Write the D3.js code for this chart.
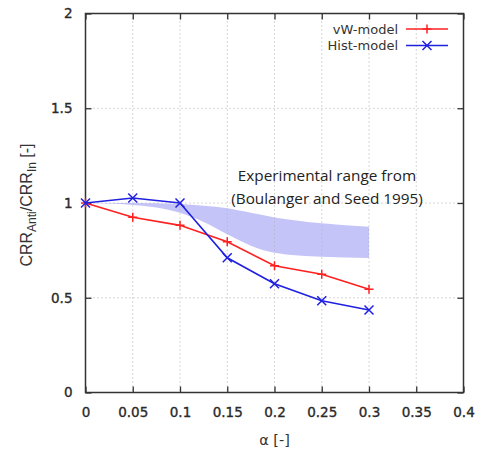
<!DOCTYPE html>
<html><head><meta charset="utf-8">
<script src="https://cdn.jsdelivr.net/npm/d3@7"></script>
<style>body{margin:0;background:#fff}svg{display:block}</style>
</head><body>
<svg id="c" width="481" height="452"></svg>
<script>
const alphaVals = [0, 0.05, 0.1, 0.15, 0.2, 0.25, 0.3];
const vwModel = [1.0, 0.925, 0.882, 0.795, 0.669, 0.624, 0.545];
const histModel = [1.0, 1.026, 1.0, 0.711, 0.574, 0.484, 0.435];
const bandX = [0, 0.05, 0.1, 0.125, 0.15, 0.175, 0.2, 0.25, 0.3];
const bandUpper = [1.0, 1.0, 0.995, 0.985, 0.972, 0.948, 0.924, 0.893, 0.875];
const bandLower = [1.0, 0.99, 0.948, 0.9, 0.835, 0.775, 0.738, 0.716, 0.71];
const xTicks = [0, 0.05, 0.1, 0.15, 0.2, 0.25, 0.3, 0.35, 0.4];
const yTicks = [0, 0.5, 1, 1.5, 2];
const seriesNames = ["vW-model", "Hist-model"];

const svg = d3.select("#c");
const L = 85.5, R = 463.5, T = 13.5, B = 392.5;
const x = d3.scaleLinear().domain([0, 0.4]).range([L, R]);
const y = d3.scaleLinear().domain([0, 2]).range([B, T]);
const tickCol = "#2a2a2a";
const font = "DejaVu Sans, Verdana, sans-serif";

// band
const bandData = bandX.map((v, i) => ({x: v, lo: bandLower[i], hi: bandUpper[i]}));
svg.append("path").datum(bandData)
  .attr("d", d3.area().x(d => x(d.x)).y0(d => y(d.lo)).y1(d => y(d.hi)).curve(d3.curveMonotoneX))
  .attr("fill", "#c4c4f8");

// grid
const g = svg.append("g");
xTicks.slice(1, -1).forEach(t => g.append("line").attr("x1", x(t)).attr("x2", x(t)).attr("y1", T).attr("y2", B)
  .attr("stroke", "#b0b0b0").attr("stroke-width", 1).attr("stroke-dasharray", "1,3"));
yTicks.slice(1, -1).forEach(t => g.append("line").attr("x1", L).attr("x2", R).attr("y1", y(t)).attr("y2", y(t))
  .attr("stroke", "#b0b0b0").attr("stroke-width", 1).attr("stroke-dasharray", "1,3"));

// axes
const fmt = d => String(d);
const ax = svg.append("g").attr("transform", `translate(0,${B})`)
  .call(d3.axisBottom(x).tickValues(xTicks).tickFormat(fmt).tickSizeInner(-6).tickSizeOuter(0).tickPadding(15));
const axT = svg.append("g").attr("transform", `translate(0,${T})`)
  .call(d3.axisTop(x).tickValues(xTicks).tickFormat("").tickSizeInner(-6).tickSizeOuter(0));
const ay = svg.append("g").attr("transform", `translate(${L},0)`)
  .call(d3.axisLeft(y).tickValues(yTicks).tickFormat(fmt).tickSizeInner(-6).tickSizeOuter(0).tickPadding(13));
const ayR = svg.append("g").attr("transform", `translate(${R},0)`)
  .call(d3.axisRight(y).tickValues(yTicks).tickFormat("").tickSizeInner(-6).tickSizeOuter(0));
[ax, axT, ay, ayR].forEach(a => {
  a.select(".domain").remove();
  a.selectAll(".tick line").attr("stroke", "#333").attr("stroke-width", 1.3);
  a.selectAll("text").attr("fill", tickCol).attr("font-family", font).attr("font-size", 13.5)
    .attr("stroke", tickCol).attr("stroke-width", 0.35);
});
svg.append("rect").attr("x", L).attr("y", T).attr("width", R - L).attr("height", B - T)
  .attr("fill", "none").attr("stroke", "#333").attr("stroke-width", 1.5);

// series
const series = [
  {name: seriesNames[0], vals: vwModel, color: "#ff2020", mark: "plus"},
  {name: seriesNames[1], vals: histModel, color: "#2020e0", mark: "cross"}
];
function marker(sel, mk, cx, cy, col) {
  const s = 4.5;
  if (mk === "plus") {
    sel.append("path").attr("d", `M${cx - s},${cy}H${cx + s}M${cx},${cy - s}V${cy + s}`)
      .attr("stroke", col).attr("stroke-width", 1.5).attr("fill", "none");
  } else {
    sel.append("path").attr("d", `M${cx - s},${cy - s}L${cx + s},${cy + s}M${cx - s},${cy + s}L${cx + s},${cy - s}`)
      .attr("stroke", col).attr("stroke-width", 1.5).attr("fill", "none");
  }
}
series.forEach(s => {
  const pts = alphaVals.map((a, i) => [x(a), y(s.vals[i])]);
  svg.append("path").datum(pts).attr("d", d3.line()).attr("fill", "none")
    .attr("stroke", s.color).attr("stroke-width", 1.6);
  pts.forEach(p => marker(svg, s.mark, p[0], p[1], s.color));
});

// legend
series.forEach((s, i) => {
  const ly = 29 + i * 16.5;
  svg.append("text").attr("x", 398).attr("y", ly).attr("dy", "0.35em").attr("text-anchor", "end")
    .attr("font-family", font).attr("font-size", 13).attr("fill", "#333").text(s.name);
  svg.append("line").attr("x1", 406).attr("x2", 448).attr("y1", ly).attr("y2", ly)
    .attr("stroke", s.color).attr("stroke-width", 1.6);
  marker(svg, s.mark, 427, ly, s.color);
});

// annotation
const ann = svg.append("text").attr("text-anchor", "middle").attr("font-family", "Open Sans, sans-serif")
  .attr("font-size", 15.3).attr("fill", "#222");
ann.append("tspan").attr("x", 327).attr("y", 181).text("Experimental range from");
ann.append("tspan").attr("x", 327).attr("y", 203.5).text("(Boulanger and Seed 1995)");

// axis titles
svg.append("text").attr("x", x(0.2)).attr("y", 445).attr("text-anchor", "middle")
  .attr("font-family", font).attr("font-size", 14.5).attr("fill", "#333").text("α [-]");
const yt = svg.append("text").attr("transform", `translate(32,205) rotate(-90)`).attr("text-anchor", "middle")
  .attr("font-family", "Liberation Sans, Arial, sans-serif").attr("font-size", 16).attr("fill", "#333");
yt.append("tspan").text("CRR");
yt.append("tspan").attr("font-size", 12).attr("dy", 4).text("Anti");
yt.append("tspan").attr("dy", -4).text("/CRR");
yt.append("tspan").attr("font-size", 12).attr("dy", 4).text("In");
yt.append("tspan").attr("dy", -4).text(" [-]");
</script>
</body></html>
